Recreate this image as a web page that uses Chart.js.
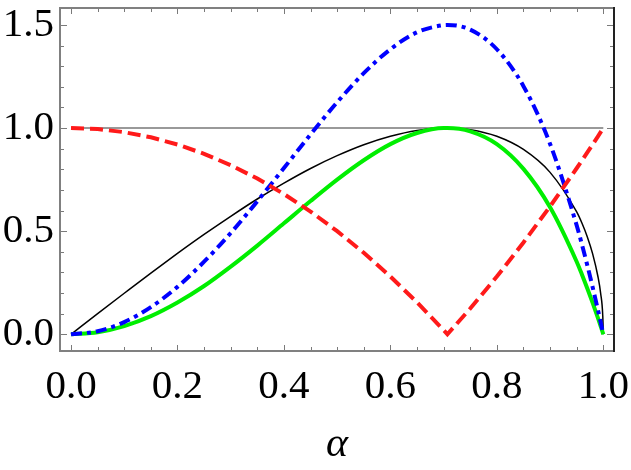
<!DOCTYPE html>
<html>
<head>
<meta charset="utf-8">
<script src="https://cdn.jsdelivr.net/npm/chart.js@4/dist/chart.umd.min.js"></script>
<style>
html,body{margin:0;padding:0;background:#fff;}
#wrap{width:631px;height:470px;position:relative;}
.pre{position:absolute;left:-1000px;top:0;font-family:"Liberation Serif";font-size:41px;}
</style>
</head>
<body>
<span class="pre">0.123456789α</span><span class="pre" style="font-style:italic">α</span>
<div id="wrap"><canvas id="c" width="631" height="470"></canvas></div>
<script>
// ---- data ----
const alphaValues = [0,0.05,0.1,0.15,0.2,0.25,0.3,0.35,0.4,0.45,0.5,0.55,0.6,0.65,0.7,0.7071,0.75,0.8,0.85,0.9,0.95,0.96,0.97,0.98,0.99,0.995,0.999,1];
const blackValues = [0,0.10,0.199,0.297,0.392,0.484,0.572,0.656,0.733,0.804,0.866,0.919,0.960,0.988,1.0,1.0,0.992,0.960,0.896,0.785,0.593,0.538,0.472,0.390,0.279,0.199,0.089,0];
const greenValues = [0,0.010,0.040,0.088,0.154,0.234,0.328,0.430,0.538,0.646,0.750,0.844,0.922,0.976,1.0,1.0,0.984,0.922,0.802,0.616,0.352,0.289,0.222,0.152,0.078,0.040,0.008,0];
const blueValues  = [0,0.015,0.059,0.132,0.230,0.352,0.491,0.645,0.806,0.969,1.125,1.266,1.382,1.464,1.499,1.5,1.477,1.382,1.203,0.923,0.528,0.434,0.334,0.228,0.117,0.059,0.012,0];
const redValues   = [1,0.995,0.98,0.955,0.92,0.875,0.82,0.755,0.68,0.595,0.5,0.395,0.28,0.155,0.02,0,0.125,0.28,0.445,0.62,0.805,0.843,0.882,0.921,0.960,0.980,0.996,1];
const refLineX = [0,1];
const refLineY = [1,1];
const xTickLabels = [0.0,0.2,0.4,0.6,0.8,1.0];
const yTickLabels = [0.0,0.5,1.0,1.5];

const pts = (xs, ys) => xs.map((x,i)=>({x:x,y:ys[i]}));

const frameTicks = {
  id:'frameTicks',
  afterDraw(chart){
    const ctx = chart.ctx, a = chart.chartArea, xs = chart.scales.x, ys = chart.scales.y;
    ctx.save();
    ctx.lineWidth = 1;
    ctx.strokeStyle = '#7a7a7a';
    for(let i=0;i<=20;i++){
      const v=i*0.05, px=Math.round(xs.getPixelForValue(v))+0.5;
      const len = (i%4===0)?6:4;
      ctx.beginPath();ctx.moveTo(px,a.bottom);ctx.lineTo(px,a.bottom-len);ctx.stroke();
      ctx.beginPath();ctx.moveTo(px,a.top);ctx.lineTo(px,a.top+len);ctx.stroke();
    }
    for(let i=0;i<=15;i++){
      const v=i*0.1, py=Math.round(ys.getPixelForValue(v))+0.5;
      const len = (i%5===0)?7:4;
      ctx.beginPath();ctx.moveTo(a.left,py);ctx.lineTo(a.left+len,py);ctx.stroke();
      ctx.beginPath();ctx.moveTo(a.right,py);ctx.lineTo(a.right-len,py);ctx.stroke();
    }
    ctx.lineWidth = 2;
    ctx.strokeStyle = '#808080';
    ctx.beginPath();
    ctx.moveTo(a.right,a.top);ctx.lineTo(a.left,a.top);ctx.lineTo(a.left,a.bottom);ctx.lineTo(a.right,a.bottom);
    ctx.stroke();
    ctx.strokeStyle = '#222';
    ctx.beginPath();ctx.moveTo(a.right,a.top-1);ctx.lineTo(a.right,a.bottom+1);ctx.stroke();
    ctx.restore();
  }
};

const serif = '"Liberation Serif", Tinos, "Times New Roman", serif';

function build(){
new Chart(document.getElementById('c'), {
  type:'scatter',
  data:{
    datasets:[
      {data:pts(alphaValues, redValues), showLine:true, borderColor:'#ff1a1a', borderWidth:4, borderDash:[13,6], pointRadius:0, tension:0, order:0},
      {data:pts(alphaValues, blueValues), showLine:true, borderColor:'#0000ff', borderWidth:4, borderDash:[11,5,4,5], pointRadius:0, cubicInterpolationMode:'monotone', order:1},
      {data:pts(alphaValues, greenValues), showLine:true, borderColor:'#00ee00', borderWidth:4, pointRadius:0, cubicInterpolationMode:'monotone', order:2},
      {data:pts(alphaValues, blackValues), showLine:true, borderColor:'#000000', borderWidth:1.5, pointRadius:0, cubicInterpolationMode:'monotone', order:3},
      {data:pts(refLineX, refLineY), showLine:true, borderColor:'#999999', borderWidth:2, pointRadius:0, order:4}
    ]
  },
  options:{
    responsive:false,
    animation:false,
    events:[],
    layout:{padding:{left:0,right:17,top:8,bottom:0}},
    plugins:{legend:{display:false},tooltip:{enabled:false}},
    scales:{
      x:{
        type:'linear', min:-0.0207, max:1.0201,
        afterBuildTicks(s){ s.ticks = xTickLabels.map(v=>({value:v})); },
        afterFit(s){ s.height = 119; s.paddingLeft=0; s.paddingRight=0; },
        grid:{display:false, drawTicks:false},
        border:{display:false},
        ticks:{padding:12, color:'#000', font:{family:serif, size:41}, maxRotation:0, autoSkip:false,
          callback:(v)=>Number(v).toFixed(1)},
        title:{display:true, text:'α', color:'#000', font:{family:serif, size:42, style:'italic'}, padding:{top:0,bottom:0}}
      },
      y:{
        type:'linear', min:-0.081, max:1.582,
        afterBuildTicks(s){ s.ticks = yTickLabels.map(v=>({value:v})); },
        afterFit(s){ s.width = 60; s.paddingTop=0; s.paddingBottom=0; },
        grid:{display:false, drawTicks:false},
        border:{display:false},
        ticks:{padding:6, color:'#000', font:{family:serif, size:41}, autoSkip:false,
          callback:(v)=>Number(v).toFixed(1)}
      }
    }
  },
  plugins:[frameTicks]
});
}
if (document.fonts && document.fonts.load) {
  Promise.all([document.fonts.load('41px "Liberation Serif"'), document.fonts.load('italic 42px "Liberation Serif"')]).then(build, build);
} else build();
</script>
</body>
</html>
